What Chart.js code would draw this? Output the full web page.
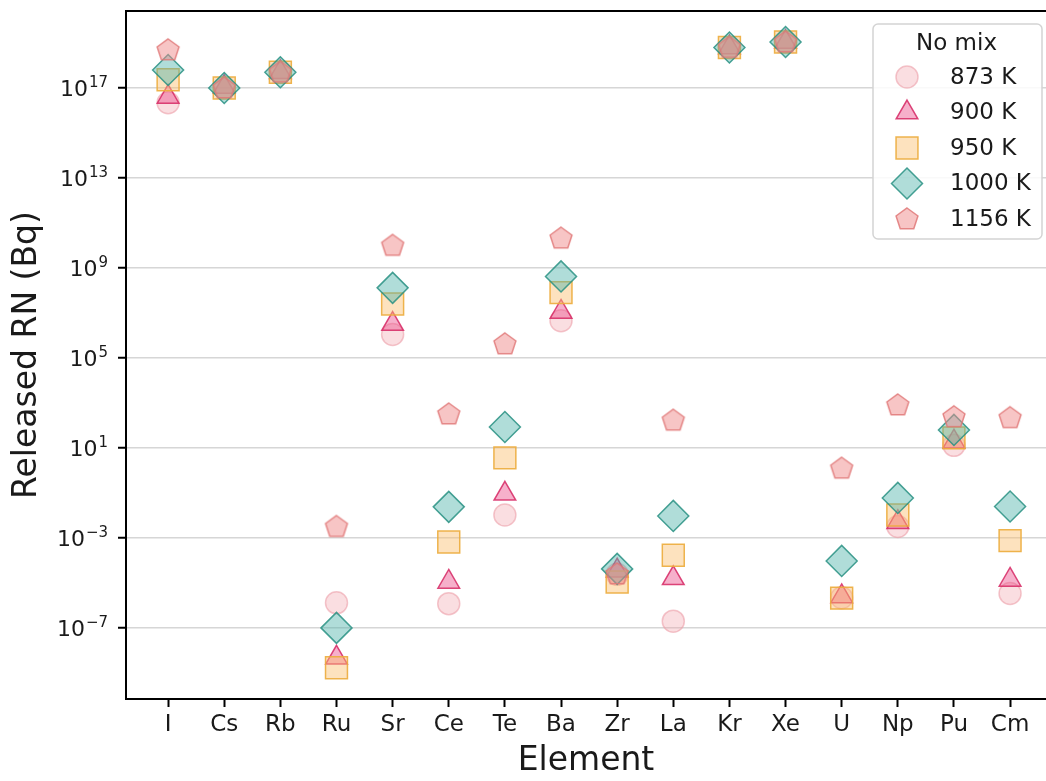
<!DOCTYPE html>
<html>
<head>
<meta charset="utf-8">
<script src="https://cdn.jsdelivr.net/npm/chart.js@4.4.0/dist/chart.umd.min.js"></script>
<style>
  html, body { margin:0; padding:0; background:#fff; }
  #wrap { width:1046px; height:781px; }
</style>
</head>
<body>
<div id="wrap"><canvas id="rnChart" width="1046" height="781"></canvas></div>
<script>
// released radionuclides per element, "No mix" case
const elements = ['I','Cs','Rb','Ru','Sr','Ce','Te','Ba','Zr','La','Kr','Xe','U','Np','Pu','Cm'];
const tempLabels = ['873 K','900 K','950 K','1000 K','1156 K'];
const yTickExps = [-7,-3,1,5,9,13,17];

const r873  = [2.2e16, 1.0e17, 5.0e17, 1.3e-6, 1.1e6, 1.2e-6, 1.05e-2, 4.5e6, 2.4e-5, 2.0e-7, 6.3e18, 1.1e19, 2.2e-6, 3.2e-3, 13, 3.4e-6];
const r900  = [4.0e16, 1.1e17, 5.0e17, 4.7e-9, 3.2e6, 1.1e-5, 9.1e-2, 1.1e7, 3.5e-5, 1.6e-5, 6.3e18, 1.1e19, 2.5e-6, 5.0e-3, 19, 1.35e-5];
const r950  = [2.3e17, 1.0e17, 5.0e17, 1.7e-9, 2.5e7, 6.6e-4, 3.6, 8.0e7, 1.1e-5, 1.7e-4, 6.3e18, 1.1e19, 2.1e-6, 1.05e-2, 28, 7.6e-4];
const r1000 = [6.3e17, 1.0e17, 5.0e17, 1.0e-7, 1.3e8, 2.4e-2, 85, 4.2e8, 4.2e-5, 9.5e-3, 6.3e18, 1.1e19, 9.5e-5, 6.0e-2, 63, 2.5e-2];
const r1156 = [4.9e18, 1.0e17, 5.0e17, 3.2e-3, 1.0e10, 3.2e2, 4.2e5, 2.1e10, 2.5e-5, 1.7e2, 6.3e18, 1.1e19, 1.25, 8.1e2, 2.4e2, 2.2e2];

const FONT = "'DejaVu Sans', sans-serif";

function pentagonImage(fill, stroke){
  const c = document.createElement('canvas');
  c.width = 28; c.height = 28;
  const g = c.getContext('2d');
  g.beginPath();
  for(let k=0;k<5;k++){
    const a = -Math.PI/2 + k*2*Math.PI/5;
    const px = 14 + 11.5*Math.cos(a), py = 14.5 + 11.5*Math.sin(a);
    k ? g.lineTo(px,py) : g.moveTo(px,py);
  }
  g.closePath();
  g.fillStyle = fill; g.fill();
  g.lineWidth = 1.5; g.strokeStyle = stroke; g.stroke();
  return c;
}

const styles = [
  {style:'circle',   radius:11,   bg:'rgba(240,160,170,0.35)', border:'rgba(236,160,170,0.6)'},
  {style:'triangle', radius:12.5, bg:'rgba(236,80,140,0.45)',  border:'rgba(214,40,100,0.85)'},
  {style:'rect',     radius:15.5, bg:'rgba(250,190,110,0.45)', border:'rgba(236,172,60,0.9)'},
  {style:'rectRot',  radius:15.5, bg:'rgba(80,180,170,0.45)',  border:'rgba(40,145,130,0.85)'},
  {style:pentagonImage('rgba(240,140,140,0.5)','rgba(225,120,120,0.85)'), radius:12, bg:'rgba(240,140,140,0.5)', border:'rgba(225,120,120,0.85)'}
];

const series = [r873, r900, r950, r1000, r1156];
const datasets = series.map((vals, i) => ({
  label: tempLabels[i],
  data: vals.map((v, j) => ({x: j, y: v})),
  pointStyle: styles[i].style,
  pointRadius: styles[i].radius,
  pointBackgroundColor: styles[i].bg,
  pointBorderColor: styles[i].border,
  pointBorderWidth: 1.5,
  showLine: false,
  order: 5 - i
}));

// top spine
const frame = {
  id: 'frame',
  afterDatasetsDraw(chart){
    const {ctx, chartArea:a} = chart;
    ctx.save();
    ctx.strokeStyle = '#000'; ctx.lineWidth = 2;
    ctx.beginPath(); ctx.moveTo(a.left, a.top); ctx.lineTo(a.right, a.top); ctx.stroke();
    ctx.restore();
  }
};

// y tick labels as 10 with a raised exponent
const powTicks = {
  id: 'powTicks',
  afterDraw(chart){
    const {ctx} = chart;
    const ys = chart.scales.y;
    const right = ys.right - 18;
    ctx.save();
    ctx.fillStyle = '#1a1a1a';
    ctx.textAlign = 'right';
    ctx.textBaseline = 'alphabetic';
    yTickExps.forEach(e => {
      const py = ys.getPixelForValue(Math.pow(10, e));
      const expTxt = String(e).replace('-', '\u2212');
      ctx.font = '15px ' + FONT;
      const ew = ctx.measureText(expTxt).width;
      ctx.fillText(expTxt, right, py - 0.5);
      ctx.font = '22px ' + FONT;
      ctx.fillText('10', right - ew - 1, py + 8);
    });
    ctx.restore();
  }
};

const boxLegend = {
  id: 'boxLegend',
  afterDraw(chart){
    const {ctx, chartArea:a} = chart;
    const w = 169, h = 215;
    const left = a.right - 4 - w, top = a.top + 13;
    ctx.save();
    ctx.beginPath();
    ctx.roundRect(left, top, w, h, 5);
    ctx.fillStyle = 'rgba(255,255,255,0.85)'; ctx.fill();
    ctx.strokeStyle = '#d4d4d4'; ctx.lineWidth = 1.5; ctx.stroke();
    ctx.fillStyle = '#1a1a1a';
    ctx.font = '23px ' + FONT;
    ctx.textAlign = 'center'; ctx.textBaseline = 'middle';
    ctx.fillText('No mix', left + w/2 - 1, top + 20);
    chart.data.datasets.forEach((ds, i) => {
      const y = top + 53 + i*35.5;
      ctx.fillStyle = ds.pointBackgroundColor;
      ctx.strokeStyle = ds.pointBorderColor;
      ctx.lineWidth = 1.5;
      Chart.helpers.drawPoint(ctx, {pointStyle: ds.pointStyle, radius: ds.pointRadius, rotation: 0, borderWidth: 1.5}, left + 34, y);
      ctx.fillStyle = '#1a1a1a';
      ctx.textAlign = 'left';
      ctx.fillText(ds.label, left + 77, y + 1);
    });
    ctx.restore();
  }
};

new Chart(document.getElementById('rnChart').getContext('2d'), {
  type: 'scatter',
  data: { datasets },
  options: {
    responsive: false,
    animation: false,
    events: [],
    layout: { autoPadding: false, padding: { top: 11, right: 0, left: 0, bottom: 0 } },
    plugins: { legend: { display: false }, tooltip: { enabled: false } },
    scales: {
      x: {
        type: 'linear',
        min: -0.75, max: 15.64,
        afterBuildTicks: s => { s.ticks = elements.map((e, i) => ({value: i})); },
        afterFit: s => { s.height = 82; s.paddingLeft = 0; s.paddingRight = 0; },
        ticks: { callback: v => elements[v], color: '#1a1a1a', font: { family: FONT, size: 23 }, padding: 4, maxRotation: 0, autoSkip: false },
        grid: { drawOnChartArea: false, tickLength: 8, tickColor: '#000', tickWidth: 2 },
        border: { color: '#000', width: 2 },
        title: { display: true, text: 'Element', color: '#1a1a1a', font: { family: FONT, size: 33, lineHeight: 1.2 }, padding: { top: 0, bottom: 0 } }
      },
      y: {
        type: 'logarithmic',
        min: Math.pow(10, -10.16), max: Math.pow(10, 20.42),
        afterBuildTicks: s => { s.ticks = yTickExps.map(e => ({value: Math.pow(10, e)})); },
        afterFit: s => { s.width = 126; s.paddingTop = 0; s.paddingBottom = 0; },
        ticks: { display: false },
        grid: { color: '#d6d6d6', lineWidth: 1.5, tickLength: 8, tickColor: '#000', tickWidth: 2 },
        border: { color: '#000', width: 2 },
        title: { display: true, text: 'Released RN (Bq)', color: '#1a1a1a', font: { family: FONT, size: 33, lineHeight: 1.2 }, padding: { top: 8, bottom: 0 } }
      }
    }
  },
  plugins: [frame, powTicks, boxLegend]
});
</script>
</body>
</html>
